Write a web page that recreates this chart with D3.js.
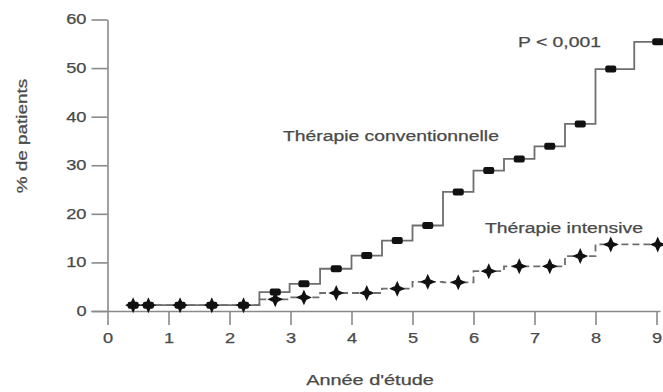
<!DOCTYPE html>
<html lang="fr">
<head>
  <meta charset="UTF-8">
  <title>Thérapie conventionnelle vs intensive</title>
  <script src="https://d3js.org/d3.v7.min.js"></script>
  <style>
    html, body { margin: 0; padding: 0; background: #fff; }
    body { font-family: "Liberation Sans", Arial, Helvetica, sans-serif; }
    .axis path, .axis line { stroke: #8a8a8a; stroke-width: 1.6; }
    .axis text, .label {
      fill: #4a4a4a; font-size: 14px; font-family: "Liberation Sans", Arial, sans-serif;
      stroke: #4a4a4a; stroke-width: 0.25;
    }
  </style>
</head>
<body>
  <div id="chart"></div>

  <script>
    // years at the step markers (same for both groups)
    const years = [0.42, 0.67, 1.19, 1.71, 2.23, 2.75, 3.22, 3.75, 4.25, 4.75, 5.25, 5.75, 6.25, 6.75, 7.25, 7.75, 8.25, 9.02];
    const convPct = [1.2, 1.2, 1.2, 1.2, 1.2, 3.9, 5.6, 8.7, 11.4, 14.5, 17.6, 24.5, 28.9, 31.3, 33.9, 38.5, 49.8, 55.4];
    const intPct = [1.2, 1.2, 1.2, 1.2, 1.2, 2.4, 2.8, 3.7, 3.7, 4.6, 6.0, 5.9, 8.2, 9.2, 9.2, 11.3, 13.7, 13.7];

    const xTicks = [0, 1, 2, 3, 4, 5, 6, 7, 8, 9];
    const yTicks = [0, 10, 20, 30, 40, 50, 60];

    const width = 663;
    const height = 392;

    const x = d3.scaleLinear().domain([0, 9]).range([107.5, 656.5]);
    const y = d3.scaleLinear().domain([0, 60]).range([311, 19.5]);

    const svg = d3.select("#chart").append("svg")
      .attr("width", width)
      .attr("height", height);

    // widen each text like the original lettering
    function widen(sel, k) {
      sel.each(function () {
        const w = this.getComputedTextLength();
        d3.select(this)
          .attr("textLength", w * k)
          .attr("lengthAdjust", "spacingAndGlyphs");
      });
    }

    // axes, crossing at the origin
    const yAxis = svg.append("g")
      .attr("class", "axis")
      .attr("transform", `translate(${x(0)},0)`)
      .call(d3.axisLeft(y).tickValues(yTicks).tickSize(16).tickSizeOuter(0).tickPadding(5));

    const xAxis = svg.append("g")
      .attr("class", "axis")
      .attr("transform", `translate(0,${y(0)})`)
      .call(d3.axisBottom(x).tickValues(xTicks).tickSize(14).tickSizeOuter(0).tickPadding(8));

    svg.selectAll(".axis .domain").attr("stroke", "#8a8a8a");
    svg.selectAll(".axis text").attr("fill", "#4a4a4a").style("font-size", "14px");
    yAxis.selectAll("text").call(widen, 1.3);
    xAxis.selectAll("text").call(widen, 1.3);
    xAxis.select(".domain").attr("d", `M${x(9) + 4},0.5H${x(0) - 16}`);

    const stepLine = d3.line()
      .x((d, i) => x(years[i]))
      .y(d => y(d))
      .curve(d3.curveStep);

    // intensive: dashed step line with star markers
    svg.append("path")
      .datum(intPct)
      .attr("d", stepLine)
      .attr("fill", "none")
      .attr("stroke", "#6e6e6e")
      .attr("stroke-width", 1.8)
      .attr("stroke-dasharray", "7,4");

    // conventional: solid step line with bar markers
    svg.append("path")
      .datum(convPct)
      .attr("d", stepLine)
      .attr("fill", "none")
      .attr("stroke", "#6e6e6e")
      .attr("stroke-width", 1.8);

    const star = "M-6.5,0L-2,-2L0,-6.5L2,-2L6.5,0L2,2L0,6.5L-2,2Z";

    svg.append("g")
      .selectAll("path")
      .data(intPct)
      .join("path")
      .attr("transform", (d, i) => `translate(${x(years[i])},${y(d)})`)
      .attr("d", star)
      .attr("fill", "#111")
      .attr("stroke", "#111")
      .attr("stroke-width", 1.2);

    svg.append("g")
      .selectAll("rect")
      .data(convPct)
      .join("rect")
      .attr("x", (d, i) => x(years[i]) - 5.5)
      .attr("y", d => y(d) - 3.5)
      .attr("width", 11)
      .attr("height", 7)
      .attr("rx", 2)
      .attr("fill", "#111");

    // titles and annotations
    svg.append("text")
      .attr("class", "label")
      .attr("x", 370)
      .attr("y", 385)
      .attr("text-anchor", "middle")
      .text("Année d'étude")
      .call(widen, 1.42);

    svg.append("text")
      .attr("class", "label")
      .attr("transform", "translate(27,136) rotate(-90)")
      .attr("text-anchor", "middle")
      .text("% de patients")
      .call(widen, 1.35);

    svg.append("text")
      .attr("class", "label")
      .attr("x", 518)
      .attr("y", 47)
      .text("P < 0,001")
      .call(widen, 1.38);

    svg.append("text")
      .attr("class", "label")
      .attr("x", 283)
      .attr("y", 141)
      .text("Thérapie conventionnelle")
      .call(widen, 1.38);

    svg.append("text")
      .attr("class", "label")
      .attr("x", 485)
      .attr("y", 233)
      .text("Thérapie intensive")
      .call(widen, 1.38);
  </script>
</body>
</html>
